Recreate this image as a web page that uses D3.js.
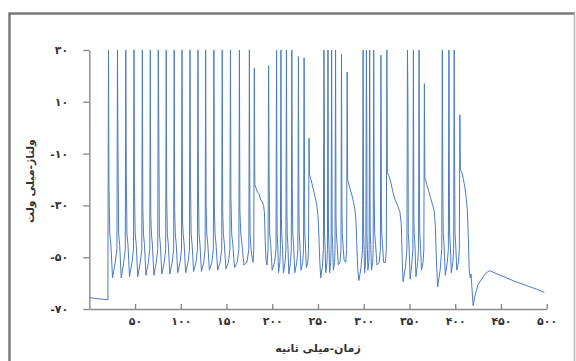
<!DOCTYPE html>
<meta charset="utf-8">
<head>
<script src="https://d3js.org/d3.v7.min.js"></script>
<style>
  body { margin: 0; background: #fff; }
  svg { display: block; }
</style>
</head>
<body>
<div id="chart"></div>
<script>

// resting level before the current step (ms, mV)
var restT = [0, 6, 14, 20.4];
var restV = [-65.6, -65.9, -66.2, -66.4];

// spikes: time, peak, shoulder level right after the spike, trough before the next spike (null = plateau follows)
var spikeT = [21.0, 30.8, 39.9, 48.9, 58.0, 66.7, 75.4, 84.1, 92.8, 101.4, 110.1, 118.8, 127.2, 136.2, 145.3, 154.3, 164.1, 175.0, 180.4,
              196.0, 204.7, 209.5, 215.5, 221.4, 228.6, 234.8, 240.2,
              256.5, 260.9, 264.9, 269.2, 275.7, 281.9,
              299.3, 302.9, 306.5, 310.9, 318.8, 325.3,
              347.8, 354.3, 360.5, 366.3,
              385.9, 393.1, 398.9, 405.1];
var spikePeak = [30, 30, 30, 30, 30, 30, 30, 30, 30, 30, 30, 30, 30, 30, 30, 30, 30, 30, 23,
                 24, 30, 30, 30, 30, 27.5, 27, -4,
                 30, 30, 30, 30, 28.5, 21.5,
                 30, 30, 30, 30, 28, 30,
                 30, 30, 30, 17,
                 30, 30, 30, 5];
var spikeAdp = [-23, -5, -17, -25, -31, -34, 3, -27, -32, -36, -20, -24, -30, -31, -32, -27, -32, -27, -21,
                -15, -33, -35, -30, -22, -30, -25, -18,
                4, -36, -30, -35, -32, -20,
                -30, -6, -35, -25, -33, -17,
                10, -35, -30, -19,
                -22, -27, -18, -16];
var spikeTrough = [-58, -58, -57.5, -57.5, -57, -57, -56.5, -56.5, -56, -56, -55.5, -55.5, -55, -55, -54.5, -54, -53, -49, null,
                   -55, -56, -56, -56.5, -56, -55, -54, null,
                   -56, -56, -55, -53, -51, null,
                   -56, -55, -55, -53, -52, null,
                   -58.5, -57.5, -55, null,
                   -57, -56, -55, null];

// slow plateaus after each burst and the recovery at the end (ms, mV)
var plateauT = [181.0, 182.5, 184, 185.5, 187, 189, 190.5, 191.5, 192.3, 193.2, 194.2,
                241.5, 243, 245, 247, 248.5, 250, 251, 252, 253, 255,
                283, 285, 287, 289, 290.5, 291.5, 292.5, 293.5, 294.8, 297,
                326, 327.5, 329.5, 332, 334.5, 337, 339.5, 341, 342, 343, 345.5,
                367, 369, 371, 373, 375, 377, 378.3, 379.3, 380.8, 383.5,
                406, 407.5, 409, 410.5, 412, 413.3, 414.3, 415.3, 416.5, 417.3, 418.3, 419.6,
                421.5, 425, 430.4, 434, 437.7, 450, 465, 480, 490, 497.5];
var plateauV = [-22, -23.5, -25, -25.5, -27.5, -28.5, -30, -33, -44, -51, -53,
                -19, -21, -24, -27, -29.5, -34, -42, -52, -58, -53,
                -21, -23.5, -26, -29, -32, -36, -46, -55, -59, -54,
                -17.5, -18.5, -21, -25, -28, -30, -32.5, -37, -50, -59.5, -54,
                -19.5, -22, -24.5, -27, -29.5, -32, -38, -50, -61.5, -55,
                -16.5, -17.5, -20, -23, -27, -32, -42, -55, -58, -56.5, -62, -68.7,
                -65, -60.5, -57.6, -56, -55.2, -57.1, -59.3, -61.2, -62.5, -63.6];

var yTicks = [-70, -50, -30, -10, 10, 30];
var yTickLabels = ["-۷۰", "-۵۰", "-۳۰", "-۱۰", "۱۰", "۳۰"];
var xTicks = [50, 100, 150, 200, 250, 300, 350, 400, 450, 500];
var xTickLabels = ["۵۰", "۱۰۰", "۱۵۰", "۲۰۰", "۲۵۰", "۳۰۰", "۳۵۰", "۴۰۰", "۴۵۰", "۵۰۰"];

var width = 576, height = 361;

var svg = d3.select("#chart")
  .append("svg")
  .attr("width", width)
  .attr("height", height);

// frame: left, top and right edges (bottom runs off the page)
var frame = svg.append("g")
  .style("stroke", "#7a7a7a")
  .style("stroke-width", 2.5);
frame.append("line").attr("x1", 9.5).attr("y1", 13).attr("x2", 9.5).attr("y2", 361);
frame.append("line").attr("x1", 8.5).attr("y1", 13.5).attr("x2", 575).attr("y2", 13.5);
frame.append("line").attr("x1", 574.5).attr("y1", 13).attr("x2", 574.5).attr("y2", 361)
  .style("stroke", "#b5b5b5").style("stroke-width", 1.5);

var x = d3.scaleLinear().domain([0, 500]).range([89.3, 546.7]);
var y = d3.scaleLinear().domain([-70, 30]).range([309, 50]);

// build the trace: rest, then each spike with its shoulder and trough, plateaus in between
var pts = restT.map(function(t, i) { return [t, restV[i]]; });
spikeT.forEach(function(t, i) {
  var tn = i + 1 < spikeT.length ? spikeT[i + 1] : Infinity;
  pts.push([t - 0.6, -47], [t, spikePeak[i]], [t + 0.5, spikeAdp[i]]);
  if (spikeTrough[i] !== null) {
    var isi = tn - t;
    pts.push([t + Math.max(0.6, 0.14 * isi), -41],
             [t + 0.26 * isi, -45],
             [t + 0.45 * isi, spikeTrough[i]],
             [t + 0.75 * isi, -52]);
  } else {
    plateauT.forEach(function(pt, j) {
      if (pt > t && pt < tn) pts.push([pt, plateauV[j]]);
    });
  }
});

var line = d3.line()
  .x(function(d) { return x(d[0]); })
  .y(function(d) { return y(d[1]); });

svg.append("path")
  .datum(pts)
  .attr("d", line)
  .style("fill", "none")
  .style("stroke", "#4a7cc4")
  .style("stroke-width", 1)
  .style("stroke-linejoin", "round");

// axes
var yAxis = svg.append("g")
  .attr("transform", "translate(" + x(0) + ",0)")
  .call(d3.axisLeft(y).tickValues(yTicks).tickSizeInner(6).tickSizeOuter(0).tickPadding(15)
    .tickFormat(function(d, i) { return yTickLabels[i]; }));

var xAxis = svg.append("g")
  .attr("transform", "translate(0," + y(-70) + ")")
  .call(d3.axisBottom(x).tickValues(xTicks).tickSizeInner(-5).tickSizeOuter(0).tickPadding(8)
    .tickFormat(function(d, i) { return xTickLabels[i]; }));

svg.selectAll(".domain, .tick line")
  .style("stroke", "#8a8a8a")
  .style("stroke-width", 1.4);

svg.selectAll(".tick text")
  .style("font-family", "DejaVu Sans")
  .style("font-size", "11px")
  .style("font-weight", "bold")
  .style("fill", "#333");

// axis titles
svg.append("text")
  .attr("x", 318)
  .attr("y", 352)
  .attr("text-anchor", "middle")
  .style("font-family", "DejaVu Sans")
  .style("font-size", "11px")
  .style("font-weight", "bold")
  .style("fill", "#333")
  .text("زمان-میلی ثانیه");

svg.append("text")
  .attr("transform", "translate(34,181) rotate(-90)")
  .attr("text-anchor", "middle")
  .style("font-family", "DejaVu Sans")
  .style("font-size", "11px")
  .style("font-weight", "bold")
  .style("fill", "#333")
  .text("ولتاژ-میلی ولت");

</script>
</body>
